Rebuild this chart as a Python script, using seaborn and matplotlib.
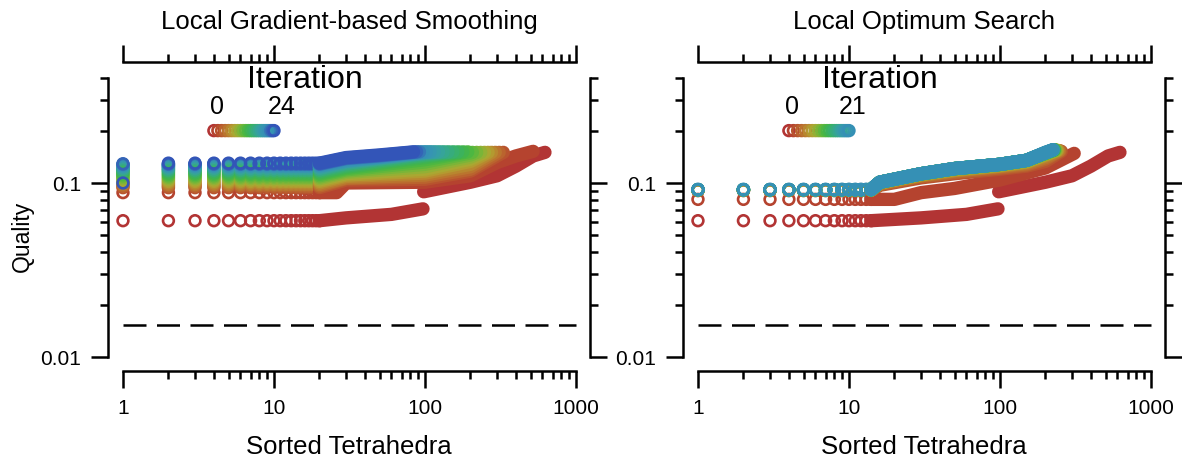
import numpy as np
import pandas as pd
import matplotlib
matplotlib.use("Agg")
import matplotlib.pyplot as plt
import seaborn as sns
from matplotlib.ticker import FixedLocator, NullFormatter

nan = np.nan

# colour of each iteration (0 = red ... 24 = blue)
ITER_COLORS = [
    "#B23434", "#B5432F", "#B8532E", "#BA642E", "#BA752E", "#B8872F", "#B39A30",
    "#A9A832", "#93B035", "#7AB538", "#61B73C", "#4DB741", "#42B44C", "#3CB25C",
    "#39B06C", "#37AC7C", "#36A88C", "#36A49A", "#369EA6", "#3698AE", "#3694B3",
    "#3590B5", "#3579B6", "#3464B7", "#3355B8",
]

PANEL_TITLES = ["Local Gradient-based Smoothing", "Local Optimum Search"]
# worst tetrahedra that still show up as separate open circles
LEFT_DOT_RANKS = [1, 2, 3, 4, 5, 6, 7, 8, 9, 10, 11, 12, 13, 14, 15, 16, 17, 18, 19, 20]
RIGHT_DOT_RANKS = [1, 2, 3, 4, 5, 6, 7, 8, 9, 10, 11, 12, 13, 14]
THRESHOLD_Q = 0.0153

# iteration 0 is the same starting mesh in both panels
K0_HEAD_Q = 0.0607
K0_LOW_RANK = [30, 60, 97]
K0_LOW_Q = [0.063, 0.066, 0.071]
K0_HIGH_RANK = [98, 200, 300, 400, 520, 623]
K0_HIGH_Q = [0.089, 0.101, 0.110, 0.125, 0.143, 0.150]

# left panel, iterations 1..24
LEFT_FIRST_Q = [0.088, 0.094, 0.096, 0.098, 0.100, 0.102, 0.104, 0.106, 0.108, 0.110, 0.112, 0.114,
                0.116, 0.118, 0.119, 0.121, 0.122, 0.124, 0.125, 0.126, 0.127, 0.128, 0.129, 0.100]
LEFT_HEAD_Q = [0.088, 0.094, 0.096, 0.098, 0.100, 0.102, 0.104, 0.106, 0.108, 0.110, 0.112, 0.114,
               0.116, 0.118, 0.119, 0.121, 0.122, 0.124, 0.125, 0.126, 0.127, 0.128, 0.129, 0.130]
LEFT_ROW_END = [26, 20, 20, 20, 20, 20, 20, 20, 20, 20, 20, 20,
                20, 20, 20, 20, 20, 20, 20, 20, 20, 20, 20, 20]
LEFT_Q30 = [0.100, 0.104, 0.106, 0.107, 0.109, 0.111, 0.113, 0.115, 0.117, 0.119, 0.121, 0.123,
            0.125, 0.127, 0.129, 0.130, 0.132, 0.133, 0.134, 0.135, 0.137, 0.138, 0.139, 0.140]
LEFT_Q50 = [nan, nan, nan, nan, nan, nan, nan, nan, nan, nan, nan, nan,
            nan, nan, nan, nan, nan, nan, nan, 0.141, 0.142, 0.143, 0.144, 0.145]
LEFT_Q100 = [0.101, 0.105, 0.108, 0.111, 0.114, 0.117, 0.120, 0.124, 0.128, 0.132, 0.136, 0.140,
             0.143, 0.145, 0.147, 0.148, 0.149, 0.150, 0.150, nan, nan, nan, nan, nan]
LEFT_Q200 = [0.110, 0.117, 0.120, 0.124, 0.128, 0.133, 0.137, 0.141, 0.145, 0.149, nan, nan,
             nan, nan, nan, nan, nan, nan, nan, nan, nan, nan, nan, nan]
LEFT_Q300 = [0.131] + [nan] * 23
LEFT_Q400 = [0.143] + [nan] * 23
LEFT_END_RANK = [520, 330, 310, 292, 276, 262, 248, 234, 220, 206, 192, 178,
                 165, 153, 142, 132, 123, 115, 108, 102, 97, 92, 88, 84]
LEFT_END_Q = [0.152, 0.150, 0.150, 0.150, 0.150, 0.150, 0.150, 0.150, 0.150, 0.150, 0.151, 0.151,
              0.151, 0.151, 0.151, 0.151, 0.151, 0.151, 0.151, 0.151, 0.151, 0.151, 0.151, 0.151]

# right panel, iterations 1..21
RIGHT_HEAD_Q = [0.0805, 0.0905, 0.0905, 0.0910, 0.0910, 0.0910, 0.0910, 0.0910, 0.0915, 0.0915, 0.0915,
                0.0915, 0.0915, 0.0915, 0.0915, 0.0915, 0.0915, 0.0915, 0.0915, 0.0915, 0.0920]
RIGHT_ROW_END = [20, 14, 14, 14, 14, 14, 14, 14, 14, 14, 14, 14, 14, 14, 14, 14, 14, 14, 14, 14, 14]
RIGHT_Q16 = [nan, 0.097, 0.098, 0.099, 0.100, 0.100, 0.100, 0.101, 0.101, 0.101, 0.101,
             0.101, 0.101, 0.101, 0.101, 0.101, 0.101, 0.101, 0.101, 0.101, 0.101]
RIGHT_Q30 = [0.088, 0.107, 0.109, 0.110, 0.111, 0.112, 0.112, 0.112, 0.113, 0.113, 0.113,
             0.113, 0.113, 0.113, 0.113, 0.113, 0.113, 0.113, 0.113, 0.113, 0.113]
RIGHT_Q50 = [0.093, 0.113, 0.115, 0.117, 0.118, 0.119, 0.120, 0.120, 0.121, 0.121, 0.121,
             0.121, 0.121, 0.121, 0.121, 0.121, 0.121, 0.121, 0.121, 0.121, 0.121]
RIGHT_Q100 = [0.104, 0.120, 0.122, 0.124, 0.125, 0.126, 0.127, 0.127, 0.128, 0.128, 0.128,
              0.128, 0.128, 0.128, 0.128, 0.128, 0.128, 0.128, 0.128, 0.128, 0.128]
RIGHT_Q150 = [nan, 0.125, 0.127, 0.129, 0.131, 0.132, 0.133, 0.134, 0.135, 0.135, 0.135,
              0.135, 0.135, 0.135, 0.135, 0.135, 0.135, 0.135, 0.135, 0.135, 0.135]
RIGHT_Q200 = [0.122, 0.133, 0.137, 0.140, 0.143, 0.145, 0.146, 0.147, 0.148, 0.148, 0.149,
              0.149, 0.149, 0.149, 0.149, 0.149, 0.149, 0.149, 0.149, 0.150, 0.150]
RIGHT_END_RANK = [310, 255, 250, 246, 242, 239, 236, 234, 232, 230, 229,
                  228, 227, 226, 226, 225, 225, 224, 224, 223, 223]
RIGHT_END_Q = [0.148, 0.152, 0.153, 0.153, 0.154, 0.154, 0.154, 0.154, 0.155, 0.155, 0.155,
               0.155, 0.155, 0.155, 0.155, 0.155, 0.155, 0.155, 0.155, 0.155, 0.155]

DOT_SIZE = 60
DOT_EDGE = 1.9
BAND_LW = 9.6


def build_frames(dot_ranks, first_q, head_q, row_end, band_cols, end_rank, end_q):
    """Open-circle rows for the worst tets and the merged bands after them."""
    last = dot_ranks[-1]
    dots = [{"iteration": 0, "rank": r, "quality": K0_HEAD_Q} for r in dot_ranks]
    lines = [{"iteration": 0, "seg": "0a", "rank": last, "quality": K0_HEAD_Q}]
    lines += [{"iteration": 0, "seg": "0a", "rank": r, "quality": q}
              for r, q in zip(K0_LOW_RANK, K0_LOW_Q)]
    lines += [{"iteration": 0, "seg": "0b", "rank": r, "quality": q}
              for r, q in zip(K0_HIGH_RANK, K0_HIGH_Q)]
    for i in range(len(head_q)):
        k = i + 1
        dots.append({"iteration": k, "rank": 1, "quality": first_q[i]})
        dots += [{"iteration": k, "rank": r, "quality": head_q[i]} for r in dot_ranks[1:]]
        pts = [(last, head_q[i]), (row_end[i], head_q[i])]
        for r, col in band_cols:
            if not np.isnan(col[i]) and row_end[i] < r < end_rank[i]:
                pts.append((r, col[i]))
        pts.append((end_rank[i], end_q[i]))
        lines += [{"iteration": k, "seg": str(k), "rank": r, "quality": q} for r, q in pts]
    return pd.DataFrame(dots), pd.DataFrame(lines)


def hollow(coll):
    fc = coll.get_facecolors()
    coll.set_edgecolors(fc)
    coll.set_facecolors("none")
    coll.set_linewidths(DOT_EDGE)


def draw_panel(ax, dots, lines, title, show_ylabel):
    n_iter = dots["iteration"].nunique()
    pal = {k: ITER_COLORS[k] for k in range(n_iter)}
    sns.lineplot(data=lines, x="rank", y="quality", hue="iteration", units="seg",
                 estimator=None, sort=False, palette=pal, lw=BAND_LW,
                 solid_capstyle="round", legend=False, ax=ax)
    sns.scatterplot(data=dots, x="rank", y="quality", hue="iteration", palette=pal,
                    s=DOT_SIZE, legend=False, ax=ax)
    hollow(ax.collections[-1])

    # colour key drawn inside the plot, like the original
    key_x = np.linspace(4, 10, n_iter)
    key = pd.DataFrame({"x": key_x, "y": 0.2, "iteration": range(n_iter)})
    sns.scatterplot(data=key, x="x", y="y", hue="iteration", palette=pal,
                    s=DOT_SIZE, legend=False, ax=ax)
    hollow(ax.collections[-1])
    ax.text(16, 0.395, "Iteration", fontsize=23, ha="center", va="center")
    ax.text(4.2, 0.278, "0", fontsize=18, ha="center", va="center")
    ax.text(11.3 if n_iter > 22 else 10.6, 0.278, str(n_iter - 1), fontsize=18,
            ha="center", va="center")

    ax.hlines(THRESHOLD_Q, 1, 1000, colors="black", lw=1.8, linestyles=(0, (9.2, 4.2)))

    ax.set_xscale("log")
    ax.set_yscale("log")
    ax.set_xlim(0.796, 1238)
    ax.set_ylim(0.0083, 0.496)
    ax.xaxis.set_major_locator(FixedLocator([1, 10, 100, 1000]))
    ax.xaxis.set_minor_locator(FixedLocator([m * d for d in (1, 10, 100) for m in range(2, 10)]))
    ax.set_xticklabels(["1", "10", "100", "1000"])
    ax.yaxis.set_major_locator(FixedLocator([0.01, 0.1]))
    ax.yaxis.set_minor_locator(FixedLocator([m * 0.01 for m in range(2, 10)] + [0.2, 0.3, 0.4]))
    ax.set_yticklabels(["0.01", "0.1"])
    ax.xaxis.set_minor_formatter(NullFormatter())
    ax.yaxis.set_minor_formatter(NullFormatter())
    ax.tick_params(which="both", direction="out", top=True, right=True,
                   labeltop=False, labelright=False, width=1.8, color="black",
                   labelsize=15)
    ax.tick_params(which="major", length=12.5, pad=7)
    ax.tick_params(which="minor", length=5.8)
    for side in ("top", "bottom"):
        ax.spines[side].set_bounds(1, 1000)
    for side in ("left", "right"):
        ax.spines[side].set_bounds(0.01, 0.4)
    for sp in ax.spines.values():
        sp.set_visible(True)
        sp.set_linewidth(1.8)
        sp.set_color("black")

    ax.text(0.5, (372 - 22) / 309, title, transform=ax.transAxes, fontsize=18.5,
            ha="center", va="center")
    ax.set_xlabel("Sorted Tetrahedra", fontsize=18.5)
    ax.xaxis.set_label_coords(0.5, (372 - 447) / 309)
    ax.xaxis.label.set_va("center")
    if show_ylabel:
        ax.set_ylabel("Quality", fontsize=16.5)
        ax.yaxis.set_label_coords((22 - 108) / 482, (372 - 236) / 309)
        ax.yaxis.label.set_va("center")
    else:
        ax.set_ylabel("")


sns.set_theme(style="ticks")
plt.rcParams["font.family"] = ["Liberation Sans", "DejaVu Sans"]
plt.rcParams["text.color"] = "black"
plt.rcParams["axes.labelcolor"] = "black"
plt.rcParams["xtick.color"] = "black"
plt.rcParams["ytick.color"] = "black"

left_dots, left_lines = build_frames(
    LEFT_DOT_RANKS, LEFT_FIRST_Q, LEFT_HEAD_Q, LEFT_ROW_END,
    [(30, LEFT_Q30), (50, LEFT_Q50), (100, LEFT_Q100), (200, LEFT_Q200),
     (300, LEFT_Q300), (400, LEFT_Q400)],
    LEFT_END_RANK, LEFT_END_Q)
right_dots, right_lines = build_frames(
    RIGHT_DOT_RANKS, RIGHT_HEAD_Q, RIGHT_HEAD_Q, RIGHT_ROW_END,
    [(16, RIGHT_Q16), (30, RIGHT_Q30), (50, RIGHT_Q50), (100, RIGHT_Q100),
     (150, RIGHT_Q150), (200, RIGHT_Q200)],
    RIGHT_END_RANK, RIGHT_END_Q)

fig = plt.figure(figsize=(11.82, 4.64), dpi=100)
ax1 = fig.add_axes([108 / 1182, 92 / 464, 482 / 1182, 309 / 464])
ax2 = fig.add_axes([683 / 1182, 92 / 464, 482 / 1182, 309 / 464])
draw_panel(ax1, left_dots, left_lines, PANEL_TITLES[0], True)
draw_panel(ax2, right_dots, right_lines, PANEL_TITLES[1], False)

fig.savefig("out.png", dpi=100)
